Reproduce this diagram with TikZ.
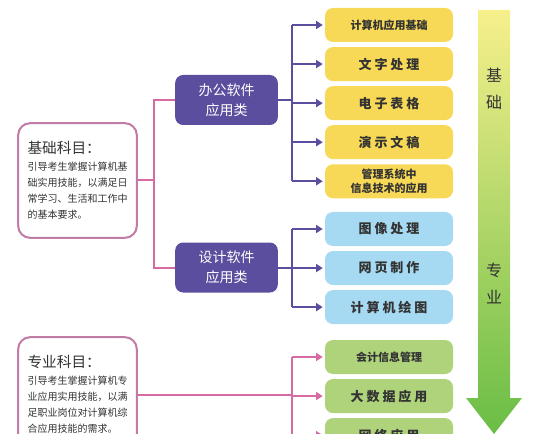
\documentclass[tikz,border=0pt]{standalone}
\usepackage{fontspec}
\setmainfont{Noto Sans CJK SC}
\usetikzlibrary{arrows.meta,positioning}
\definecolor{purp}{HTML}{5C4E9E}
\definecolor{pinkln}{HTML}{D66AA3}
\definecolor{pinkbd}{HTML}{C07BA6}
\definecolor{yell}{HTML}{F8D957}
\definecolor{skyb}{HTML}{A6DAF2}
\definecolor{leaf}{HTML}{AED37B}
\definecolor{txt}{HTML}{333333}
\definecolor{arrtop}{HTML}{F7F08C}
\definecolor{arrbot}{HTML}{69BD45}
\newcommand\subjtitle[1]{{\fontsize{11}{15}\selectfont #1}}

\begin{document}
\begin{tikzpicture}[x=0.75pt,y=-0.75pt,
      node distance=3.4pt,
      item/.style={rounded corners=6pt,minimum width=96pt,minimum height=25.5pt,
                   inner sep=1pt,align=center,text=txt,
                   font=\bfseries\fontsize{9.75}{11}\selectfont},
      small/.style={font=\bfseries\fontsize{8.25}{10.5}\selectfont},
      yitem/.style={item,fill=yell},
      bitem/.style={item,fill=skyb},
      gitem/.style={item,fill=leaf},
      cat/.style={fill=purp,rounded corners=6pt,minimum width=77pt,minimum height=37.5pt,
                  text=white,align=center,inner sep=1pt,
                  font=\fontsize{10.5}{15}\selectfont},
      subj/.style={draw=pinkbd,line width=1.5pt,fill=white,rounded corners=9pt,
                   minimum width=89pt,minimum height=86pt,align=left,inner sep=2pt,
                   text=txt,font=\fontsize{7.5}{12}\selectfont},
      purln/.style={draw=purp,line width=1.5pt},
      purarr/.style={purln,-{Triangle[length=5pt,width=6pt]},shorten >=1.5pt},
      pinkl/.style={draw=pinkln,line width=1.5pt},
      pinkarr/.style={pinkl,-{Triangle[length=5pt,width=6pt]},shorten >=1.5pt},
      flowtxt/.style={text=txt,font=\fontsize{12}{14}\selectfont}]
    \useasboundingbox (0,0) rectangle (541,434);
    \clip (0,0) rectangle (541,434);

    % progression arrow
    \shade[top color=arrtop,bottom color=arrbot]
      (478,10) -- (510,10) -- (510,398) -- (522,398) -- (494,434)
      -- (466,398) -- (478,398) -- cycle;
    \node[flowtxt] (fa) at (494,75) {基};
    \node[flowtxt] (fb) at (494,102) {础};
    \node[flowtxt] (fc) at (494,270) {专};
    \node[flowtxt] (fd) at (494,297) {业};

    % subjects
    \node[subj] (base) at (77.5,180.5) {\subjtitle{基础科目：}\\[1pt]
      引导考生掌握计算机基\\础实用技能，以满足日\\常学习、生活和工作中\\的基本要求。};
    \node[subj] (pro) at (77.5,394.5) {\subjtitle{专业科目：}\\[1pt]
      引导考生掌握计算机专\\业应用实用技能，以满\\足职业岗位对计算机综\\合应用技能的需求。};

    % categories
    \node[cat] (office) at (226.5,100) {办公软件\\应用类};
    \node[cat] (design) at (226.5,267.5) {设计软件\\应用类};

    % office items
    \node[yitem,small] (y1) at (389,25) {计算机应用基础};
    \node[yitem,below=of y1] (y2) {文 字 处 理};
    \node[yitem,below=of y2] (y3) {电 子 表 格};
    \node[yitem,below=of y3] (y4) {演 示 文 稿};
    \node[yitem,small,below=of y4] (y5) {管理系统中\\信息技术的应用};

    % design items
    \node[bitem] (b1) at (389,229) {图 像 处 理};
    \node[bitem,below=of b1] (b2) {网 页 制 作};
    \node[bitem,below=of b2] (b3) {计 算 机 绘 图};

    % professional items
    \node[gitem,small] (g1) at (389,357) {会计信息管理};
    \node[gitem,below=of g1] (g2) {大 数 据 应 用};
    \node[gitem,below=of g2] (g3) {网 络 应 用};

    % connectors
    \coordinate (jb) at ([xshift=12pt]base.east);
    \draw[pinkl] (base.east) -- (jb);
    \draw[pinkl] (office.west) -| (jb) |- (design.west);

    \coordinate (jo) at ([xshift=10.5pt]office.east);
    \draw[purln] (office.east) -- (jo);
    \draw[purln] (jo |- y1.west) -- (jo |- y5.west);
    \foreach \i in {1,...,5}
      \draw[purarr] (jo |- y\i.west) -- (y\i.west);

    \coordinate (jd) at ([xshift=10.5pt]design.east);
    \draw[purln] (design.east) -- (jd);
    \draw[purln] (jd |- b1.west) -- (jd |- b3.west);
    \foreach \i in {1,...,3}
      \draw[purarr] (jd |- b\i.west) -- (b\i.west);

    \coordinate (jp) at (jo |- pro.east);
    \draw[pinkl] (pro.east) -- (jp);
    \draw[pinkl] (jp |- g1.west) -- (jp |- g3.west);
    \foreach \i in {1,...,3}
      \draw[pinkarr] (jp |- g\i.west) -- (g\i.west);
  \end{tikzpicture}
\end{document}
